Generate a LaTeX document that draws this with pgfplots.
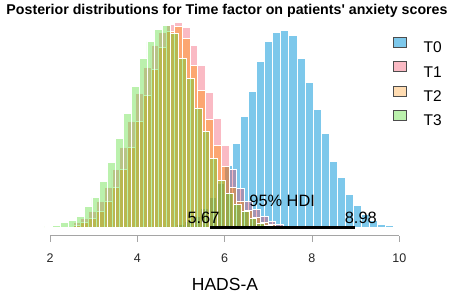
\documentclass[border=0pt]{standalone}
\usepackage{pgfplots}
\pgfplotsset{compat=1.18}
\usepackage{fontspec}
\setmainfont{Liberation Sans}
\definecolor{cT0}{RGB}{125,200,235}
\definecolor{cT1}{RGB}{240,40,70}
\definecolor{cT2}{RGB}{255,140,0}
\definecolor{cT3}{RGB}{60,215,20}
\definecolor{axgray}{RGB}{165,165,165}
\begin{document}
\begin{tikzpicture}
\useasboundingbox (-50pt,-57.3pt) rectangle (404pt,235.7pt);
\begin{axis}[
  scale only axis, width=349.3pt, height=235.7pt,
  xmin=2, xmax=10, ymin=-8.2, ymax=227.5,
  clip=false,
  axis x line*=bottom, axis y line=none,
  x axis line style={draw=axgray, line width=0.6pt, -},
  xtick={2,4,6,8,10}, ytick=\empty,
  xtick align=outside, major tick length=6pt,
  tick style={draw=axgray, line width=0.6pt},
  xticklabel style={font=\fontsize{12.5}{14}\selectfont, text=black!85, anchor=base, yshift=-21pt},
  /pgf/number format/assume math mode=true,
  legend style={at={(axis cs:9.863,190.5)}, anchor=north west, draw=none, fill=none,
    inner sep=0pt, outer sep=0pt, font=\fontsize{15.5}{18}\selectfont, row sep=7.2pt,
    nodes={inner sep=0pt},
    /tikz/every odd column/.append style={column sep=17pt}},
  legend cell align=left,
]
\addplot[ybar interval, fill=cT0, draw=white, line width=0.6pt, forget plot] coordinates {
(4.5227,0.6) (4.7068,1.5) (4.8910,3) (5.0751,6) (5.2593,11) (5.4434,19) (5.6276,30) (5.8117,44) (5.9959,62) (6.1800,84) (6.3642,111.5) (6.5483,136) (6.7325,166) (6.9166,186) (7.1008,195) (7.2849,197.5) (7.4691,192.5) (7.6532,169.5) (7.8374,145) (8.0215,118.5) (8.2057,94) (8.3898,66) (8.5740,50) (8.7581,33) (8.9423,22) (9.1264,13.5) (9.3106,7) (9.4947,3) (9.6789,1.8) (9.8630,1) (10.0472,0.5) (10.2313,0.5)};
\addplot[ybar interval, fill=cT1, fill opacity=0.32, draw=white, line width=0.6pt, forget plot] coordinates {
(1.9864,0.5) (2.1650,1) (2.3437,2.5) (2.5223,5) (2.7010,9) (2.8796,16) (3.0583,26) (3.2369,40) (3.4156,58) (3.5942,80) (3.7729,106) (3.9515,134) (4.1302,160) (4.3088,182) (4.4875,195) (4.6661,203) (4.8448,205) (5.0234,200) (5.2021,182) (5.3807,162.5) (5.5594,134.8) (5.7380,109) (5.9167,82) (6.0953,58) (6.2740,39.5) (6.4526,26) (6.6313,18) (6.8099,11) (6.9886,6) (7.1672,3) (7.3459,1.5) (7.5245,0.5) (7.7032,0.5)};
\addplot[ybar interval, fill=cT2, fill opacity=0.42, draw=white, line width=0.6pt, forget plot] coordinates {
(2.3437,1) (2.5223,2.5) (2.7010,5) (2.8796,9) (3.0583,16) (3.2369,26) (3.4156,40) (3.5942,58) (3.7729,80) (3.9515,106) (4.1302,132.5) (4.3088,158) (4.4875,180) (4.6661,196) (4.8448,201) (5.0234,189) (5.2021,162) (5.3807,137.5) (5.5594,108) (5.7380,82.5) (5.9167,61) (6.0953,40) (6.2740,26) (6.4526,17) (6.6313,10) (6.8099,5.5) (6.9886,3) (7.1672,1.5) (7.3459,0.5) (7.5245,0.5)};
\addplot[ybar interval, fill=cT3, fill opacity=0.35, draw=white, line width=0.6pt, forget plot] coordinates {
(1.8810,1.5) (2.0608,2.5) (2.2406,5) (2.4204,7.5) (2.6002,11.5) (2.7800,21) (2.9598,30) (3.1396,46) (3.3194,65) (3.4992,89) (3.6790,114) (3.8588,141.5) (4.0386,169) (4.2184,186) (4.3982,198) (4.5780,202) (4.7578,194) (4.9376,169) (5.1174,149) (5.2972,119) (5.4770,96) (5.6568,69) (5.8366,47.5) (6.0164,34.5) (6.1962,23.5) (6.3760,16) (6.5558,9.5) (6.7356,4.5) (6.9154,2) (7.0952,1) (7.2750,0.5) (7.4548,0.5)};
\addplot[black, line width=2.7pt, forget plot] coordinates {(5.67,0) (8.98,0)};
\addlegendimage{legend image code/.code={\draw[fill=cT0, draw=black!70, line width=0.7pt] (0pt,0.7pt) rectangle (12.7pt,10.7pt);}}
\addlegendentry{T0}
\addlegendimage{legend image code/.code={\draw[fill=cT1, fill opacity=0.32, draw=black!70, line width=0.7pt] (0pt,0.7pt) rectangle (12.7pt,10.7pt);}}
\addlegendentry{T1}
\addlegendimage{legend image code/.code={\draw[fill=cT2, fill opacity=0.3, draw=black!70, line width=0.7pt] (0pt,0.7pt) rectangle (12.7pt,10.7pt);}}
\addlegendentry{T2}
\addlegendimage{legend image code/.code={\draw[fill=cT3, fill opacity=0.35, draw=black!70, line width=0.7pt] (0pt,0.7pt) rectangle (12.7pt,10.7pt);}}
\addlegendentry{T3}
\node[anchor=base, font=\fontsize{16.4}{19}\selectfont] at (axis cs:7.318,21) {95\% HDI};
\node[anchor=base, font=\fontsize{16.4}{19}\selectfont] at (axis cs:5.516,4.2) {5.67};
\node[anchor=base, font=\fontsize{16.4}{19}\selectfont] at (axis cs:9.119,4.2) {8.98};
\node[anchor=base, font=\bfseries\fontsize{14.2}{16}\selectfont] at (axis cs:6.054,213.5) {Posterior distributions for Time factor on patients\textquotesingle{} anxiety scores};
\node[anchor=base, font=\fontsize{17.5}{20}\selectfont] at (axis cs:6.008,-62.5) {HADS-A};
\end{axis}
\end{tikzpicture}
\end{document}
